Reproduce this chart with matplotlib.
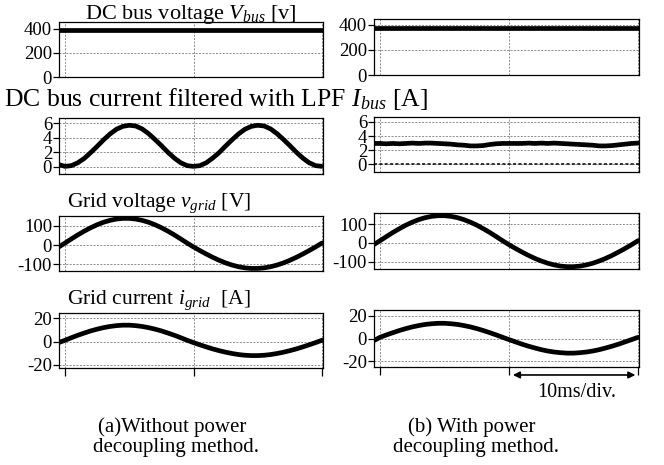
import numpy as np
import matplotlib
matplotlib.use("Agg")
import matplotlib.pyplot as plt

plt.rcParams['font.family'] = ['Liberation Serif', 'DejaVu Serif']
plt.rcParams['mathtext.fontset'] = 'custom'
plt.rcParams['mathtext.rm'] = 'Liberation Serif'
plt.rcParams['mathtext.it'] = 'Liberation Serif:italic'
plt.rcParams['axes.unicode_minus'] = False

# time axis [ms], read from the scope captures (10 ms/div)
t_ms = [-0.5, 0.0, 0.5, 1.0, 1.5, 2.0, 2.5, 3.0, 3.5, 4.0, 4.5, 5.0, 5.5, 6.0,
        6.5, 7.0, 7.5, 8.0, 8.5, 9.0, 9.5, 10.0, 10.5, 11.0, 11.5, 12.0, 12.5,
        13.0, 13.5, 14.0, 14.5, 15.0, 15.5, 16.0, 16.5, 17.0, 17.5, 18.0,
        18.5, 19.0, 19.5, 20.0]
t_dc = [-0.5, 20.1]

# DC bus voltage [V]
vbus_a = [388, 388]
vbus_b = [378, 378]

# DC bus current after LPF [A]
ibus_a = [0.3, 0.05, 0.15, 0.55, 1.15, 1.95, 2.8, 3.7, 4.5, 5.15, 5.55, 5.7,
          5.6, 5.2, 4.55, 3.75, 2.9, 2.0, 1.2, 0.55, 0.15, 0.05, 0.15, 0.55,
          1.2, 1.95, 2.85, 3.7, 4.5, 5.15, 5.55, 5.7, 5.6, 5.2, 4.55, 3.75,
          2.9, 2.0, 1.2, 0.55, 0.15, 0.05]
ibus_b = [2.95, 2.95, 2.9, 2.95, 2.9, 2.95, 3.0, 2.95, 3.0, 3.0, 2.95, 2.9,
          2.85, 2.75, 2.7, 2.6, 2.6, 2.65, 2.8, 2.9, 2.95, 2.95, 2.95, 2.95,
          3.0, 2.95, 3.0, 2.95, 3.0, 2.95, 2.9, 2.85, 2.8, 2.75, 2.7, 2.6,
          2.6, 2.65, 2.75, 2.85, 2.95, 3.0]

# grid voltage [V]
vgrid_a = [-10, 11, 32.7, 53.6, 73.2, 90.9, 106.5, 119.4, 129.3, 136.1, 139.6,
           139.6, 136.1, 129.3, 119.4, 106.5, 90.9, 73.2, 53.6, 32.7, 11,
           -9.6, -28.5, -46.7, -63.7, -79.2, -92.8, -104, -112.7, -118.6,
           -121.6, -121.6, -118.6, -112.7, -104, -92.8, -79.2, -63.7, -46.7,
           -28.5, -9.6, 11]
vgrid_b = [-10, 11.5, 34, 56, 76, 95, 111, 124.5, 135, 142, 145.5, 145.5, 142,
           135, 124.5, 111, 95, 76, 56, 34, 11.5, -10, -30, -49, -67, -83, -97,
           -109, -118, -124.5, -127.5, -127.5, -124.5, -118, -109, -97, -83,
           -67, -49, -30, -10, 11.5]

# grid current [A]
igrid_a = [-0.9, 1.1, 3.3, 5.4, 7.3, 9.1, 10.6, 11.9, 12.9, 13.6, 14.0, 14.0,
           13.6, 12.9, 11.9, 10.6, 9.1, 7.3, 5.4, 3.3, 1.1, -0.9, -2.8, -4.6,
           -6.3, -7.8, -9.1, -10.2, -11.1, -11.7, -12.0, -12.0, -11.7, -11.1,
           -10.2, -9.1, -7.8, -6.3, -4.6, -2.8, -0.9, 1.1]
igrid_b = [-2.0, 1.1, 3.2, 5.2, 7.1, 8.8, 10.3, 11.5, 12.5, 13.1, 13.5, 13.5,
           13.1, 12.5, 11.5, 10.3, 8.8, 7.1, 5.2, 3.2, 1.1, -1.0, -3.0, -5.0,
           -6.8, -8.4, -9.9, -11.1, -12.0, -12.6, -13.0, -13.0, -12.6, -12.0,
           -11.1, -9.9, -8.4, -6.8, -5.0, -3.0, -1.0, 1.0]

W, H = 664, 465
fig = plt.figure(figsize=(W / 100, H / 100), dpi=100)


def box(x0, x1, top, bottom):
    # pixel box -> figure fraction
    return [x0 / W, 1 - bottom / H, (x1 - x0) / W, (bottom - top) / H]


left_x = (59, 323)
right_x = (374, 639)
rows_left = [(22, 77), (118, 174), (216, 271), (313, 368)]
rows_right = [(19, 75), (117, 172), (213, 269), (310, 367)]

panels = [
    # (data x, left y, right y, yticks, left ylim, right ylim)
    (t_dc, vbus_a, vbus_b, [0, 200, 400], (0, 458), (0, 447)),
    (t_ms, ibus_a, ibus_b, [0, 2, 4, 6], (-1.0, 6.7), (-1.1, 6.7)),
    (t_ms, vgrid_a, vgrid_b, [-100, 0, 100], (-135, 152), (-140, 160)),
    (t_ms, igrid_a, igrid_b, [-20, 0, 20], (-22.6, 24.4), (-25.3, 25.3)),
]

grid_kw = dict(color='#8a8a8a', linestyle=(0, (2, 1.5)), linewidth=0.7)

axes_b = []
for i, (x, ya, yb, yt, yla, ylb) in enumerate(panels):
    for col, (xx, rows, y, yl) in enumerate([(left_x, rows_left, ya, yla),
                                             (right_x, rows_right, yb, ylb)]):
        top, bot = rows[i]
        ax = fig.add_axes(box(xx[0], xx[1], top, bot))
        ax.plot(x, y, color='black', linewidth=3.4, solid_capstyle='round')
        ax.set_xlim(-0.47, 20.08)
        ax.set_ylim(*yl)
        ax.set_xticks([0, 10, 20])
        ax.set_yticks(yt)
        ax.grid(True, **grid_kw)
        ax.set_axisbelow(True)
        ax.tick_params(axis='y', direction='out', length=4, width=0.9,
                       pad=1, labelsize=13.5)
        if i == 3:
            ax.tick_params(axis='x', direction='out', length=6, width=0.9,
                           labelbottom=False)
        else:
            ax.tick_params(axis='x', length=0, labelbottom=False)
        for s in ax.spines.values():
            s.set_linewidth(0.9)
        if i == 1 and col == 1:
            ax.axhline(0, color='black', linestyle=(0, (2, 1.5)), linewidth=1.1)
        if col == 1:
            axes_b.append(ax)

# panel titles (positions in pixels)
def ftext(x, y, s, **kw):
    fig.text(x / W, 1 - y / H, s, va='baseline', **kw)


ftext(85, 18.5, r'DC bus voltage $V_{bus}$ [v]', fontsize=16)
ftext(4, 105.5, r'DC bus current filtered with LPF $I_{bus}$ [A]', fontsize=18.5)
ftext(67, 207, r'Grid voltage $v_{grid}$ [V]', fontsize=15.5)
ftext(67, 304, r'Grid current $i_{grid}$  [A]', fontsize=15.5)

# captions
ftext(172, 431.5, '(a)Without power', fontsize=15, ha='center')
ftext(176, 452, 'decoupling method.', fontsize=15, ha='center')
ftext(472, 431.5, '(b) With power', fontsize=15, ha='center')
ftext(476, 452, 'decoupling method.', fontsize=15, ha='center')

# time scale marker
axb = axes_b[-1]
axb.annotate('', xy=(10.3, -0.14), xytext=(19.8, -0.14),
             xycoords=('data', 'axes fraction'),
             textcoords=('data', 'axes fraction'),
             arrowprops=dict(arrowstyle='<|-|>', color='black', lw=1.2,
                             mutation_scale=10, shrinkA=0, shrinkB=0),
             annotation_clip=False)
ftext(577, 396.5, '10ms/div.', fontsize=14.5, ha='center')

fig.savefig('out.png', dpi=100)
